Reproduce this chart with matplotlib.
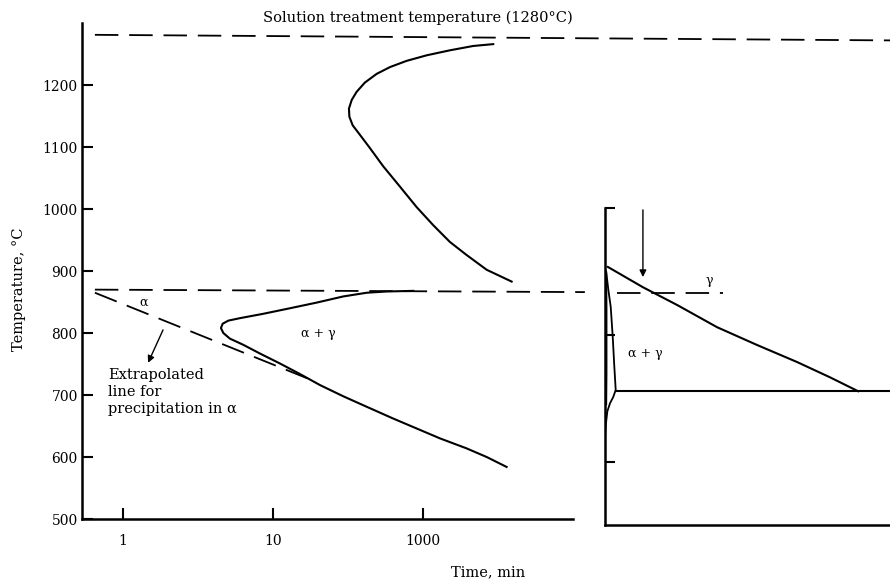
import matplotlib
matplotlib.use('Agg')
import matplotlib.pyplot as plt
from matplotlib.ticker import NullLocator

plt.rcParams['font.family'] = ['DejaVu Serif', 'DejaVu Sans']

# left panel: time (min, log) vs temperature (C)
upper_t = [294, 216, 151, 106, 77.8, 60.3, 49.1, 41.0, 36.1, 33.5, 32.1, 32.3,
           34.0, 37.1, 44.4, 54.3, 70.3, 90.8, 117, 151, 195, 266, 390]
upper_T = [1266, 1263, 1256, 1248, 1239, 1229, 1218, 1204, 1189, 1176, 1162, 1149,
           1135, 1123, 1098, 1069, 1036, 1003, 974, 947, 926, 902, 883]

lower_t = [86.2, 57.3, 42.2, 29.4, 19.5, 13.0, 8.61, 6.03, 5.04, 4.62, 4.50, 4.67,
           5.16, 6.34, 8.18, 11.1, 15.1, 20.6, 29.4, 42.2, 63.4, 90.8, 130, 195, 266, 361]
lower_T = [868, 867, 865, 859, 849, 840, 831, 824, 820, 815, 808, 800,
           791, 781, 767, 751, 734, 716, 698, 681, 662, 646, 630, 614, 600, 584]

extrap_t = [0.65, 16.9]
extrap_T = [865, 727]

solution_t = [0.65, 1.3e5]
solution_T = [1281, 1272]
alpha_gamma_t = [0.65, 1200]
alpha_gamma_T = [870, 866]

ytick_vals = [500, 600, 700, 800, 900, 1000, 1100, 1200]
xtick_vals = [1, 10, 100]
xtick_labels = ['1', '10', '1000']

# right panel: composition (arbitrary) vs temperature
bound_x = [1.0, 13.3, 25.3, 39.3, 53.3, 67.4, 78.9, 88.8]
bound_T = [907, 875, 847, 812, 784, 757, 733, 711]
lens_x = [0.4, 1.16, 2.0, 2.7, 3.26, 3.75, 2.9, 1.75, 0.8, 0.2, 0.0]
lens_T = [900, 871, 844, 797, 750, 713, 702, 692, 679, 655, 636]
lens_left_x = [0.5, 0.6, 0.6, 0.5]
lens_left_T = [897, 840, 740, 690]
solvus_x = [3.75, 100]
solvus_T = [711, 711]
gamma_dash_x = [4.2, 41.4]
gamma_dash_T = [866, 866]
right_yticks = [600, 800, 1000]

DASH = (0, (13, 6))

fig = plt.figure(figsize=(8.9, 5.79), dpi=100)

ax = fig.add_axes([0.0921, 0.1036, 0.5517, 0.8566])
ax.set_xscale('log')
ax.set_xlim(0.533, 1000)
ax.set_ylim(500, 1300)

ax.plot(upper_t, upper_T, color='black', lw=1.5)
ax.plot(lower_t, lower_T, color='black', lw=1.5)
ax.plot(extrap_t, extrap_T, color='black', lw=1.3, linestyle=DASH)
ax.plot(solution_t, solution_T, color='black', lw=1.3, linestyle=DASH, clip_on=False)
ax.plot(alpha_gamma_t, alpha_gamma_T, color='black', lw=1.3, linestyle=DASH, clip_on=False)

ax.annotate('', xy=(1.47, 752), xytext=(1.85, 805),
            arrowprops=dict(arrowstyle='-|>', color='black', lw=1.0,
                            mutation_scale=10, shrinkA=0, shrinkB=0))
ax.text(1.38, 850, 'α', fontsize=9, ha='center', va='center')
ax.text(19.95, 800, 'α + γ', fontsize=9, ha='center', va='center')
ax.text(0.794, 744, 'Extrapolated\nline for\nprecipitation in α',
        fontsize=10.5, ha='left', va='top', linespacing=1.3)

ax.set_yticks(ytick_vals)
ax.set_xticks(xtick_vals)
ax.set_xticklabels(xtick_labels)
ax.xaxis.set_minor_locator(NullLocator())
ax.tick_params(direction='in', length=8, width=1.5, labelsize=10)
ax.tick_params(axis='y', pad=3)
ax.tick_params(axis='x', pad=11)
for s in ['top', 'right']:
    ax.spines[s].set_visible(False)
for s in ['left', 'bottom']:
    ax.spines[s].set_linewidth(1.8)

ax.set_ylabel('Temperature, °C', fontsize=10.5)
ax.yaxis.set_label_coords(-0.115, 0.464)
ax.set_xlabel('Time, min', fontsize=10.5)
ax.xaxis.set_label_coords(0.827, -0.093)

fig.text(0.469, 0.969, 'Solution treatment temperature (1280°C)',
         fontsize=10.5, ha='center', va='center')

ax2 = fig.add_axes([0.6798, 0.0933, 0.3202, 0.5475])
ax2.set_xlim(0, 100)
ax2.set_ylim(500, 1000)
ax2.plot(bound_x, bound_T, color='black', lw=1.5)
ax2.plot(lens_x, lens_T, color='black', lw=1.3)
ax2.plot(lens_left_x, lens_left_T, color='black', lw=1.0)
ax2.plot(solvus_x, solvus_T, color='black', lw=1.5, clip_on=False)
ax2.plot(gamma_dash_x, gamma_dash_T, color='black', lw=1.3, linestyle=DASH)
ax2.annotate('', xy=(13.3, 891), xytext=(13.3, 997),
             arrowprops=dict(arrowstyle='-|>', color='black', lw=1.0,
                             mutation_scale=10, shrinkA=0, shrinkB=0),
             annotation_clip=False)
ax2.text(36.5, 885, 'γ', fontsize=9, ha='center', va='center')
ax2.text(14, 771, 'α + γ', fontsize=9, ha='center', va='center')

ax2.set_yticks(right_yticks)
ax2.set_yticklabels([])
ax2.set_xticks([])
ax2.tick_params(direction='in', length=7, width=1.5)
for s in ['top', 'right']:
    ax2.spines[s].set_visible(False)
for s in ['left', 'bottom']:
    ax2.spines[s].set_linewidth(1.8)

fig.savefig('out.png', dpi=100)
